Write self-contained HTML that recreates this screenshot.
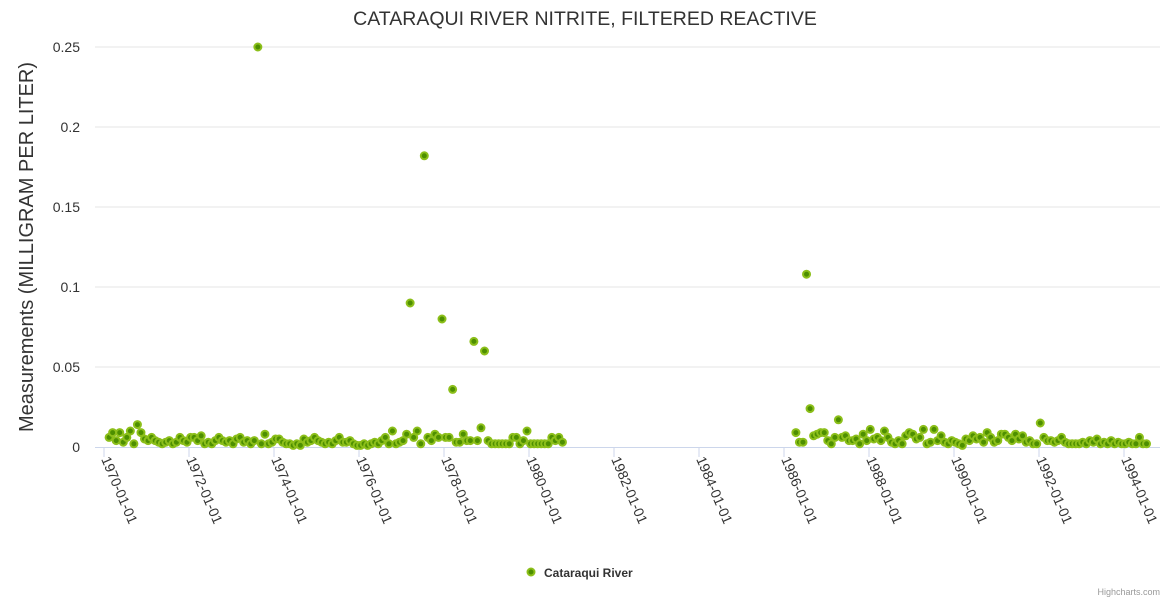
<!DOCTYPE html>
<html><head><meta charset="utf-8">
<style>
body{margin:0;background:#fff;font-family:"Liberation Sans",sans-serif;}
svg{display:block}
</style></head>
<body>
<svg id="chart" width="1170" height="600">
<rect width="1170" height="600" fill="#fff"/>
<text x="585" y="25" text-anchor="middle" font-size="19.5" fill="#333">CATARAQUI RIVER NITRITE, FILTERED REACTIVE</text>
<text transform="translate(33,247) rotate(-90)" text-anchor="middle" font-size="20" fill="#333">Measurements (MILLIGRAM PER LITER)</text>
<g id="grid"></g><g id="xaxis"></g><g id="points"></g>
<g>
<circle cx="531" cy="572" r="3.5" fill="#4d8f00" stroke="#8cbf1a" stroke-width="2"/>
<text x="544" y="577" font-size="12" font-weight="bold" fill="#333">Cataraqui River</text>
</g>
<text x="1160" y="595" text-anchor="end" font-size="9" fill="#999">Highcharts.com</text>
</svg>
<script>
const yTicks=[0,0.05,0.1,0.15,0.2,0.25];
const yTickLabels=["0","0.05","0.1","0.15","0.2","0.25"];
const xTickYears=[1970,1972,1974,1976,1978,1980,1982,1984,1986,1988,1990,1992,1994];
const seg1Start=1970.12;
const seg1Values=[.006,.009,.004,.009,.003,.006,.010,.002,.014,.009,.005,.004,
.006,.004,.003,.002,.003,.004,.002,.003,.006,.004,.003,.006,
.006,.004,.007,.002,.003,.002,.004,.006,.004,.003,.004,.002,
.005,.006,.003,.004,.002,.004,.250,.002,.008,.002,.003,.005,
.005,.003,.002,.002,.001,.002,.001,.005,.003,.004,.006,.004,
.003,.002,.003,.002,.004,.006,.003,.003,.004,.002,.001,.001,
.002,.001,.002,.003,.002,.004,.006,.002,.010,.002,.003,.004,
.008,.090,.006,.010,.002,.182,.006,.004,.008,.006,.080,.006,
.006,.036,.003,.003,.008,.004,.004,.066,.004,.012,.060,.004,
.002,.002,.002,.002,.002,.002,.006,.006,.002,.004,.010,.002,
.002,.002,.002,.002,.002,.006,.004,.006,.003];
const seg2Start=1986.28;
const seg2Values=[.009,.003,.003,.108,.024,.007,.008,.009,.009,.004,.002,.006,
.017,.006,.007,.004,.004,.005,.002,.008,.004,.011,.005,.006,
.004,.010,.006,.003,.002,.004,.002,.007,.009,.008,.005,.006,
.011,.002,.003,.011,.004,.007,.003,.002,.004,.003,.002,.001,
.005,.004,.007,.005,.006,.003,.009,.006,.003,.004,.008,.008,
.006,.004,.008,.005,.007,.003,.004,.002,.002,.015,.006,.004,
.004,.003,.004,.006,.003,.002,.002,.002,.002,.003,.002,.004,
.003,.005,.002,.003,.002,.004,.002,.003,.002,.002,.003,.002,.002,.006,.002,.002];
const NS='http://www.w3.org/2000/svg';
function xs(yr){return 104+(yr-1970)*42.5;}
function ys(v){return 447-v*1600;}
function mk(tag,attrs,parent){const e=document.createElementNS(NS,tag);for(const k in attrs)e.setAttribute(k,attrs[k]);parent.appendChild(e);return e;}
const grid=document.getElementById('grid');
yTicks.forEach((t,i)=>{
 if(i>0){const l=mk('line',{x1:95,x2:1160,y1:ys(t),y2:ys(t),stroke:'#e6e6e6'},grid);
 
 }
 const tx=mk('text',{x:80,y:ys(t)+5,'text-anchor':'end','font-size':'14',fill:'#333'},grid);
 tx.textContent=yTickLabels[i];
 
 
});
const xa=document.getElementById('xaxis');
const al=mk('line',{x1:95,x2:1160,y1:447.5,y2:447.5,stroke:'#ccd6eb'},xa);


xTickYears.forEach(yr=>{
 const x=xs(yr);
 const t=mk('line',{x1:x,x2:x,y1:447,y2:457,stroke:'#ccd6eb'},xa);
 
 
 const tx=mk('text',{transform:`translate(${x-3},${459}) rotate(67)`,'font-size':'14',fill:'#333'},xa);
 tx.textContent=yr+'-01-01';
 
 
});
const pg=document.getElementById('points');
function plot(start,vals){vals.forEach((v,i)=>{
 const c=mk('circle',{cx:xs(start+i/12),cy:ys(v),r:3.5,fill:'#4d8f00',stroke:'#8cbf1a','stroke-width':2},pg);
 
 
});}
plot(seg1Start,seg1Values);
plot(seg2Start,seg2Values);
</script>
</body></html>
